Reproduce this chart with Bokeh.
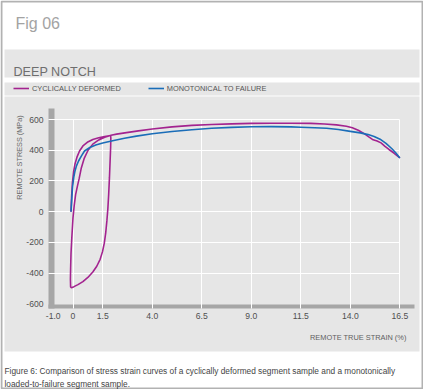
import math
from bokeh.plotting import figure
from bokeh.models import Range1d, FixedTicker, BoxAnnotation, Label, Legend, LegendItem
from bokeh.embed import file_html
from bokeh.resources import INLINE

# ---------------- data ----------------
mono_strain = [-0.10, -0.06, -0.02, 0.04, 0.10, 0.18, 0.28, 0.42, 0.58, 0.85, 1.15, 1.50, 2.00,
               2.60, 3.20, 4.00, 5.00, 6.00, 7.00, 8.00, 9.00, 10.00, 11.00, 11.50, 12.20,
               12.80, 13.40, 14.00, 14.50, 14.90, 15.20, 15.50, 15.80, 16.10, 16.30, 16.50]
mono_stress = [0, 90, 165, 225, 265, 300, 330, 362, 395, 418, 434, 447, 462,
               478, 492, 507, 522, 534, 543, 549, 553, 554, 552, 550, 547,
               543, 535, 523, 513, 502, 490, 472, 445, 410, 382, 350]

cyc_strain = [
    # first loading
    -0.10, -0.07, -0.03, 0.03, 0.10, 0.20, 0.33, 0.50, 0.72, 1.00, 1.30, 1.60, 1.90,
    # unloading / reversed loading
    1.91, 1.90, 1.87, 1.84, 1.80, 1.76, 1.71, 1.65, 1.58, 1.49, 1.37, 1.20, 1.00,
    0.75, 0.50, 0.25, 0.05, -0.08, -0.12,
    # reloading
    -0.13, -0.12, -0.10, -0.06, 0.00, 0.06, 0.13, 0.22, 0.31, 0.42, 0.56, 0.76,
    1.00, 1.30, 1.60, 1.92,
    # continued loading to failure
    2.20, 2.70, 3.30, 4.00, 5.00, 6.00, 7.00, 8.00, 9.00, 10.00, 11.00, 12.00,
    12.70, 13.30, 13.80, 14.10, 14.40, 14.70, 14.95, 15.15, 15.35, 15.55, 15.75,
    15.95, 16.20, 16.50]
cyc_stress = [
    0, 100, 190, 260, 310, 355, 395, 428, 452, 470, 481, 489, 496,
    480, 420, 320, 220, 110, 20, -60, -140, -205, -260, -310, -355, -393,
    -428, -455, -475, -488, -495, -490,
    -440, -370, -270, -170, -40, 40, 110, 165, 215, 285, 345, 400,
    440, 467, 485, 498,
    505, 515, 526, 538, 552, 562, 568, 572, 575, 576, 576, 575,
    571, 565, 556, 546, 530, 508, 485, 468, 460, 448, 425,
    405, 382, 350]

x_ticks = [-1.0, 0.0, 1.5, 4.0, 6.5, 9.0, 11.5, 14.0, 16.5]
x_tick_labels = ["-1.0", "0", "1.5", "4.0", "6.5", "9.0", "11.5", "14.0", "16.5"]
y_ticks = [-600, -400, -200, 0, 200, 400, 600]
y_tick_labels = ["-600", "-400", "-200", "0", "200", "400", "600"]

fig_title = "Fig 06"
panel_title = "DEEP NOTCH"
series_names = ["CYCLICALLY DEFORMED", "MONOTONICAL TO FAILURE"]
x_title = "REMOTE TRUE STRAIN (%)"
y_title = "REMOTE STRESS (MPa)"
caption = ["Figure 6: Comparison of stress strain curves of a cyclically deformed segment sample and a monotonically",
           "loaded-to-failure segment sample."]

# ---------------- styling ----------------
FONT = "Liberation Sans"
PURPLE = "#a3238f"
BLUE = "#1a6db8"
BAND = "#e6e6e6"
BAR = "#a6a6a6"

W, H = 423, 389
# pixel mapping of the data area (frame covers the whole canvas)
PX0, PXS = 72.5, 19.81      # page x of strain 0, px per % strain
PY0, PYS = 211.2, 0.1536    # page y of stress 0, px per MPa
X0, X1 = (0 - PX0) / PXS, (W - PX0) / PXS
Y0, Y1 = (PY0 - H) / PYS, (PY0 - 0) / PYS
BAR_L, BAR_T, BAR_B, BAR_R = 48, 108, 308, 414

p = figure(width=W, height=H, output_backend="svg", toolbar_location=None,
           x_range=Range1d(X0, X1), y_range=Range1d(Y0, Y1),
           min_border=0, min_border_left=0, min_border_right=0,
           min_border_top=0, min_border_bottom=0)
p.border_fill_color = "white"
p.background_fill_color = "white"
p.outline_line_color = None


def cbox(l, r, t, b, level="image", **kw):
    bx = BoxAnnotation(left=l, right=r, top=t, bottom=b,
                       left_units="canvas", right_units="canvas",
                       top_units="canvas", bottom_units="canvas",
                       level=level, **kw)
    p.add_layout(bx)
    return bx


# grey panels
cbox(4, 419, 49, 77, fill_color=BAND, fill_alpha=1.0, line_color=None)
cbox(4, 419, 82, 95, fill_color=BAND, fill_alpha=1.0, line_color=None)
cbox(4, 419, 96, 351, fill_color=BAND, fill_alpha=1.0, line_color=None)
# axis bars
cbox(BAR_L, BAR_L + 6, BAR_T, BAR_B, fill_color=BAR, fill_alpha=1.0, line_color=None)
cbox(BAR_L, BAR_R, BAR_B - 4, BAR_B, fill_color=BAR, fill_alpha=1.0, line_color=None)
# outer black border
cbox(1, W - 1, 1, H - 1, level="overlay", fill_alpha=0.0, line_color="black", line_width=2)

# grid
x_bar = (BAR_L - PX0) / PXS
y_bar = (PY0 - BAR_B) / PYS
p.xgrid.ticker = FixedTicker(ticks=x_ticks[1:])
p.ygrid.ticker = FixedTicker(ticks=y_ticks[1:])
p.xgrid.cross_bounds = (y_bar, 600)
p.ygrid.cross_bounds = (x_bar, 16.5)
p.grid.grid_line_color = "white"
p.grid.grid_line_width = 1
p.grid.grid_line_alpha = 1.0

# axes (labels pulled into the drawing area)
for ax in (p.xaxis, p.yaxis):
    ax.axis_line_color = None
    ax.major_tick_line_color = None
    ax.minor_tick_line_color = None
    ax.major_tick_out = 0
    ax.major_tick_in = 0
    ax.major_label_text_font = FONT
    ax.major_label_text_font_size = "8.6px"
    ax.major_label_text_color = "#505050"
p.xaxis.ticker = FixedTicker(ticks=x_ticks)
p.xaxis.major_label_overrides = {t: s for t, s in zip(x_ticks, x_tick_labels)}
p.yaxis.ticker = FixedTicker(ticks=y_ticks)
p.yaxis.major_label_standoff = -43
p.yaxis.major_label_overrides = {t: s for t, s in zip(y_ticks, y_tick_labels)}
p.xaxis.major_label_standoff = -(H - 312)

# data
r_cyc = p.line(cyc_strain, cyc_stress, line_color=PURPLE, line_width=1.6)
r_mono = p.line(mono_strain, mono_stress, line_color=BLUE, line_width=1.6)

legend = Legend(items=[LegendItem(label=series_names[0], renderers=[r_cyc]),
                       LegendItem(label=series_names[1], renderers=[r_mono])],
                orientation="horizontal", location=(13, H - 93),
                padding=0, margin=0, spacing=27, glyph_width=16, glyph_height=10,
                label_height=10, label_standoff=3,
                label_text_font=FONT, label_text_font_size="7.4px", label_text_color="#555555",
                background_fill_alpha=0, border_line_color=None)
p.add_layout(legend)


def clabel(x, y, text, size, color, align="left", baseline="alphabetic", angle=0.0):
    p.add_layout(Label(x=x, y=y, x_units="canvas", y_units="canvas", text=text,
                       text_font=FONT, text_font_size=size, text_color=color,
                       text_align=align, text_baseline=baseline, angle=angle))


clabel(15, 23, fig_title, "16px", "#a3a3a3")
clabel(13, 71, panel_title, "12.6px", "#6e6e6e")
clabel(19, 157, y_title, "7.3px", "#6a6a6a", align="center", baseline="middle", angle=math.pi / 2)
clabel(406, 337, x_title, "7.4px", "#5f5f5f", align="right")
clabel(4, 370, caption[0], "8.3px", "#444444")
clabel(4, 383, caption[1], "8.3px", "#444444")

open("out.html", "w").write(file_html(p, INLINE))
